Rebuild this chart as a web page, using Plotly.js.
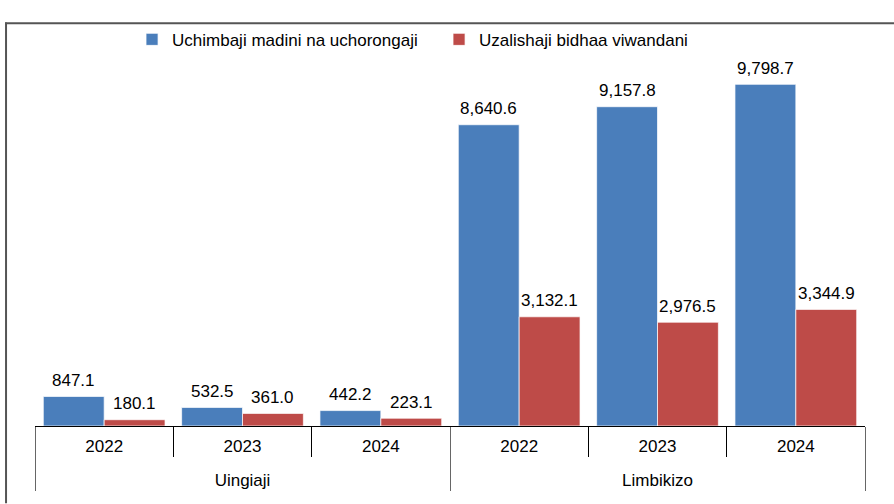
<!DOCTYPE html>
<html>
<head>
<meta charset="utf-8">
<script src="https://cdn.plot.ly/plotly-3.0.1.min.js"></script>
<style>html,body{margin:0;padding:0;background:#fff;}#chart{width:894px;height:504px;}</style>
</head>
<body>
<div id="chart"></div>
<script>
const groups = ["Uingiaji", "Uingiaji", "Uingiaji", "Limbikizo", "Limbikizo", "Limbikizo"];
const years = ["2022", "2023", "2024", "2022", "2023", "2024"];
const miningName = "Uchimbaji madini na uchorongaji";
const manufName = "Uzalishaji bidhaa viwandani";
const mining = [847.1, 532.5, 442.2, 8640.6, 9157.8, 9798.7];
const manufacturing = [180.1, 361.0, 223.1, 3132.1, 2976.5, 3344.9];

const FONT = "Liberation Sans, Arial, Helvetica, sans-serif";
const fmt = v => v.toLocaleString("en-US", {minimumFractionDigits: 1, maximumFractionDigits: 1});
// year labels carry a tiny second line so the group level sits lower, as in the reference
const yearLabels = years.map(y => y + "<br><span style='font-size:1px'> </span>");

const traces = [
  {type: "bar", name: miningName, x: [groups, yearLabels], y: mining,
   marker: {color: "#4A7EBB", line: {color: "rgba(255,255,255,0.7)", width: 1}}, hoverinfo: "y"},
  {type: "bar", name: manufName, x: [groups, yearLabels], y: manufacturing,
   marker: {color: "#BE4B48", line: {color: "rgba(255,255,255,0.7)", width: 1}}, hoverinfo: "y"}
];

const annotations = [];
const off = 0.22;
mining.forEach((v, i) => annotations.push({x: i - off, y: v, xref: "x", yref: "y", text: fmt(v), showarrow: false, yanchor: "middle", yshift: 16, font: {family: FONT, size: 17, color: "#000"}}));
manufacturing.forEach((v, i) => annotations.push({x: i + off, y: v, xref: "x", yref: "y", text: fmt(v), showarrow: false, yanchor: "middle", yshift: 16, font: {family: FONT, size: 17, color: "#000"}}));

const layout = {
  width: 894, height: 504,
  margin: {l: 35, r: 29, t: 43, b: 78},
  paper_bgcolor: "#fff", plot_bgcolor: "#fff",
  font: {family: FONT, size: 17, color: "#000"},
  barmode: "group", bargap: 0.12, bargroupgap: 0.0,
  showlegend: true,
  legend: {orientation: "h", x: 0.1477, xref: "container", xanchor: "left", y: 0.921, yref: "container", yanchor: "middle",
           bgcolor: "rgba(0,0,0,0)", entrywidth: 262, entrywidthmode: "pixels",
           font: {family: FONT, size: 17, color: "#000"}, itemclick: false},
  xaxis: {type: "multicategory", showline: true, linecolor: "#000", linewidth: 1,
          ticks: "outside", tickson: "boundaries", ticklen: 30, tickcolor: "#000",
          ticklabelstandoff: 5,
          showdividers: true, dividercolor: "#666", dividerwidth: 1,
          tickfont: {family: FONT, size: 17, color: "#000"}, showgrid: false, zeroline: false, fixedrange: true},
  yaxis: {visible: false, range: [0, 10560], fixedrange: true},
  annotations: annotations,
  shapes: [
    {type: "line", xref: "paper", yref: "paper", x0: -0.0361, x1: 1.04, y0: 1.094, y1: 1.094, line: {color: "#555", width: 2}},
    {type: "line", xref: "paper", yref: "paper", x0: -0.0349, x1: -0.0349, y0: 1.096, y1: -0.21, line: {color: "#555", width: 2}}
  ]
};

Plotly.newPlot("chart", traces, layout, {displayModeBar: false, staticPlot: true});
</script>
</body>
</html>
